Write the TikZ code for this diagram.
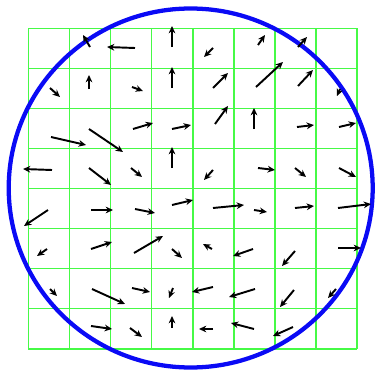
\documentclass[tikz,border=0pt]{standalone}
\usetikzlibrary{arrows.meta}

\definecolor{gridgreen}{RGB}{70,250,70}
\definecolor{rimblue}{RGB}{10,10,245}

\tikzset{
  cell/.style={draw=gridgreen, line width=1.2pt},
  rim/.style={draw=rimblue, line width=3.2pt},
  vec/.style={-{Stealth[length=5.5pt,width=5pt]}, line width=1.45pt, black},
}

\begin{document}
\begin{tikzpicture}[x=0.75pt, y=-0.75pt]

    \useasboundingbox (0,0) rectangle (376,371);

    \foreach \i in {0,...,8} {
        \draw[cell] ({28.3+41.1*\i},28.3) -- ({28.3+41.1*\i},348.7);
        \draw[cell] (28.3,{28.3+40.05*\i}) -- (357,{28.3+40.05*\i});
    }

    \draw[rim] (190.7,188) ellipse [x radius=182, y radius=179.5];

    \draw[vec] (90,47) -- (83,35);
    \draw[vec] (135,48) -- (107,47);
    \draw[vec] (172,47) -- (172,26);
    \draw[vec] (213,48) -- (204,57);
    \draw[vec] (258,45) -- (265,35);
    \draw[vec] (298,47) -- (307,37);

    \draw[vec] (50,88) -- (60,97);
    \draw[vec] (89,89) -- (89,75);
    \draw[vec] (132,87) -- (143,91);
    \draw[vec] (172,88) -- (172,67);
    \draw[vec] (213,88) -- (228,73);
    \draw[vec] (256,87) -- (283,62);
    \draw[vec] (298,86) -- (313,70);
    \draw[vec] (340,89) -- (337,96);

    \draw[vec] (51,137) -- (86,145);
    \draw[vec] (89,129) -- (123,152);
    \draw[vec] (133,129) -- (153,123);
    \draw[vec] (172,129) -- (191,125);
    \draw[vec] (215,124) -- (228,106);
    \draw[vec] (254,129) -- (254,108);
    \draw[vec] (297,127) -- (314,125);
    \draw[vec] (339,127) -- (356,123);

    \draw[vec] (52,170) -- (23,169);
    \draw[vec] (89,168) -- (111,185);
    \draw[vec] (131,168) -- (142,177);
    \draw[vec] (172,168) -- (172,147);
    \draw[vec] (213,170) -- (204,180);
    \draw[vec] (258,168) -- (275,170);
    \draw[vec] (295,168) -- (306,177);
    \draw[vec] (339,168) -- (356,177);

    \draw[vec] (48,210) -- (24,226);
    \draw[vec] (91,210) -- (113,210);
    \draw[vec] (135,209) -- (155,213);
    \draw[vec] (172,205) -- (193,200);
    \draw[vec] (213,208) -- (244,205);
    \draw[vec] (254,210) -- (267,212);
    \draw[vec] (295,208) -- (314,206);
    \draw[vec] (338,208) -- (371,204);

    \draw[vec] (47,249) -- (37,256);
    \draw[vec] (91,249) -- (112,242);
    \draw[vec] (134,253) -- (163,236);
    \draw[vec] (172,249) -- (182,258);
    \draw[vec] (212,249) -- (203,244);
    \draw[vec] (253,249) -- (233,256);
    \draw[vec] (295,251) -- (282,266);
    \draw[vec] (338,248) -- (361,248);

    \draw[vec] (50,289) -- (57,296);
    \draw[vec] (92,289) -- (125,304);
    \draw[vec] (132,288) -- (150,292);
    \draw[vec] (173,288) -- (169,298);
    \draw[vec] (213,287) -- (192,292);
    \draw[vec] (255,289) -- (229,297);
    \draw[vec] (294,290) -- (280,307);
    \draw[vec] (336,289) -- (328,298);

    \draw[vec] (91,326) -- (112,329);
    \draw[vec] (130,328) -- (142,337);
    \draw[vec] (172,328) -- (172,316);
    \draw[vec] (213,329) -- (199,329);
    \draw[vec] (254,329) -- (231,323);
    \draw[vec] (293,327) -- (273,336);

\end{tikzpicture}
\end{document}
